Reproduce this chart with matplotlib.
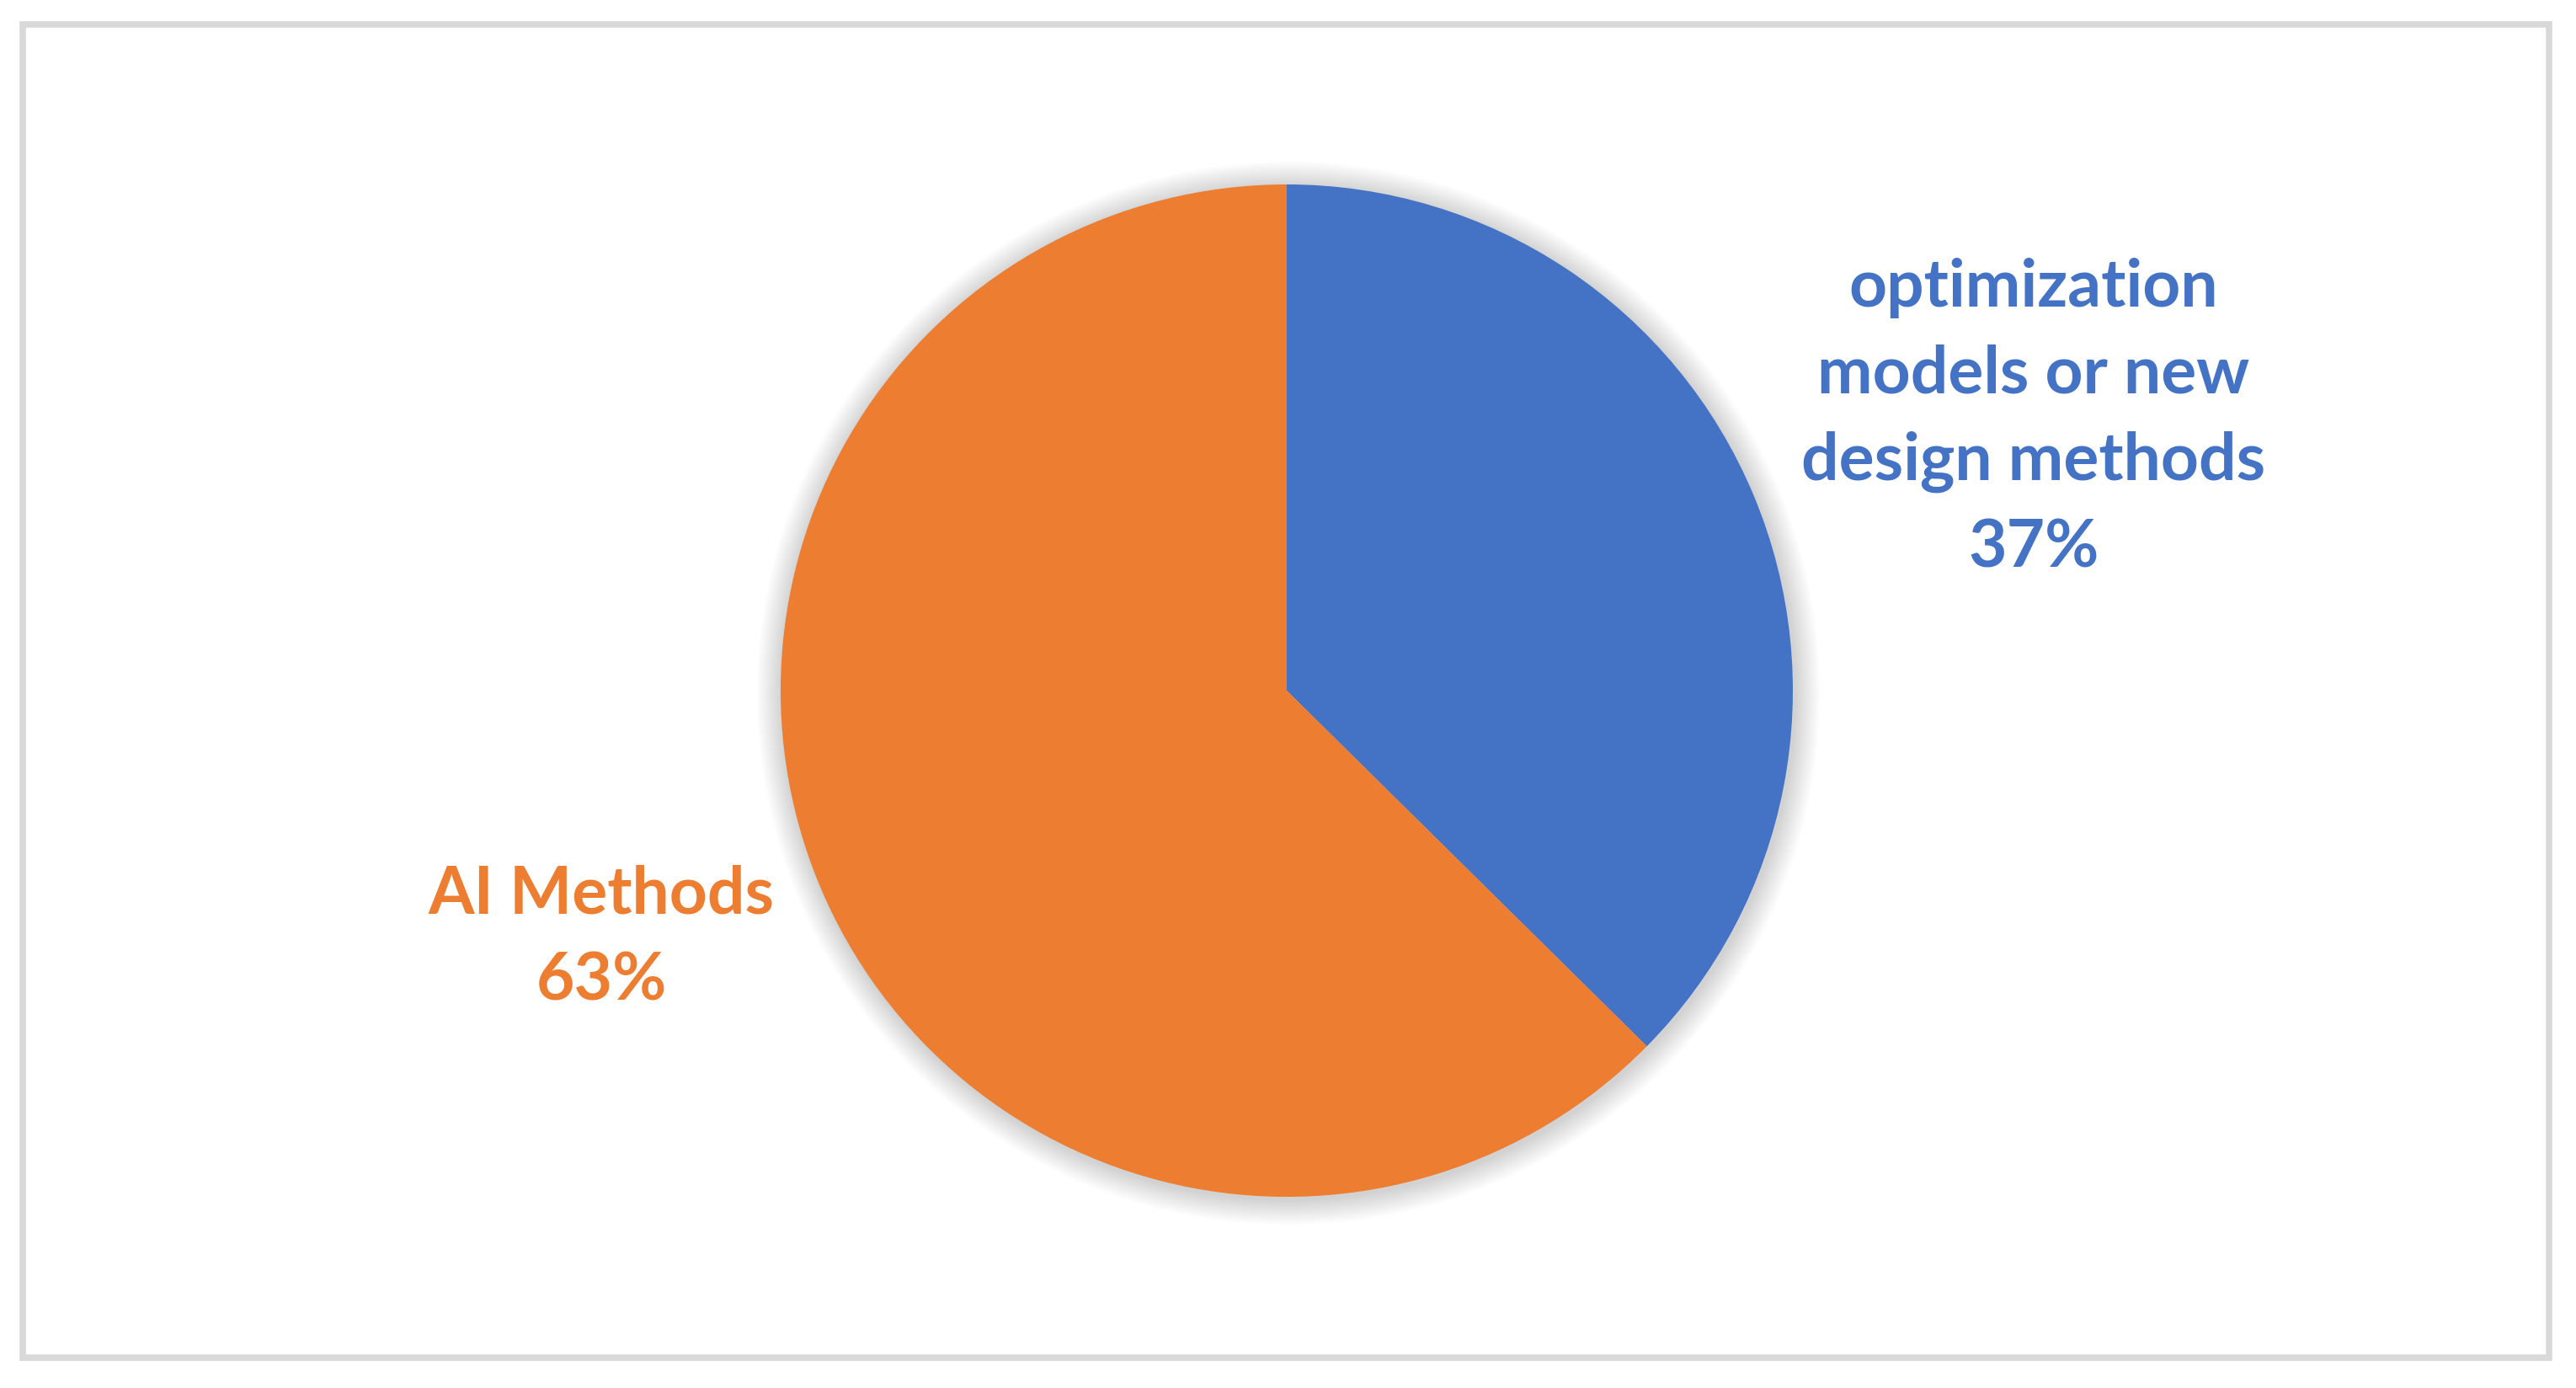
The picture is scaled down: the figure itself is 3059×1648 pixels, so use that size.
import numpy as np
import matplotlib.pyplot as plt
from matplotlib.patches import Circle, Rectangle

plt.rcParams['font.family'] = ['Lato', 'DejaVu Sans']

# data
categories = ['optimization\nmodels or new\ndesign methods', 'AI Methods']
shares = [37.4, 62.6]
colors = ['#4472C4', '#ED7D31']

W, H = 3059, 1648
fig = plt.figure(figsize=(W / 100, H / 100), dpi=100)
ax = fig.add_axes([0, 0, 1, 1])

cx, cy, r = 1528, H - 820, 601

# soft shadow around the pie
for k in range(30, 0, -2):
    ax.add_patch(Circle((cx + 2, cy - 3), r + k, color='black', alpha=0.011, lw=0, zorder=1))

ax.pie(shares, colors=colors, startangle=90, counterclock=False,
       center=(cx, cy), radius=r, frame=True,
       wedgeprops=dict(linewidth=0, zorder=2))
ax.set_xlim(0, W)
ax.set_ylim(0, H)
ax.axis('off')

# labels
ax.text(2415, H - 497, f"{categories[0]}\n{shares[0]:.0f}%", color=colors[0],
        fontsize=56.5, fontweight='bold', ha='center', va='center',
        linespacing=1.53, zorder=3)
ax.text(714, H - 1114, f"{categories[1]}\n{shares[1]:.0f}%", color=colors[1],
        fontsize=56.5, fontweight='bold', ha='center', va='center',
        linespacing=1.53, zorder=3)

# outer frame
ax.add_patch(Rectangle((27, H - 1612), 3027 - 27, 1612 - 29, fill=False,
                       edgecolor='#D9D9D9', lw=5.5, zorder=4))

fig.savefig('out.png', dpi=100, facecolor='white')
